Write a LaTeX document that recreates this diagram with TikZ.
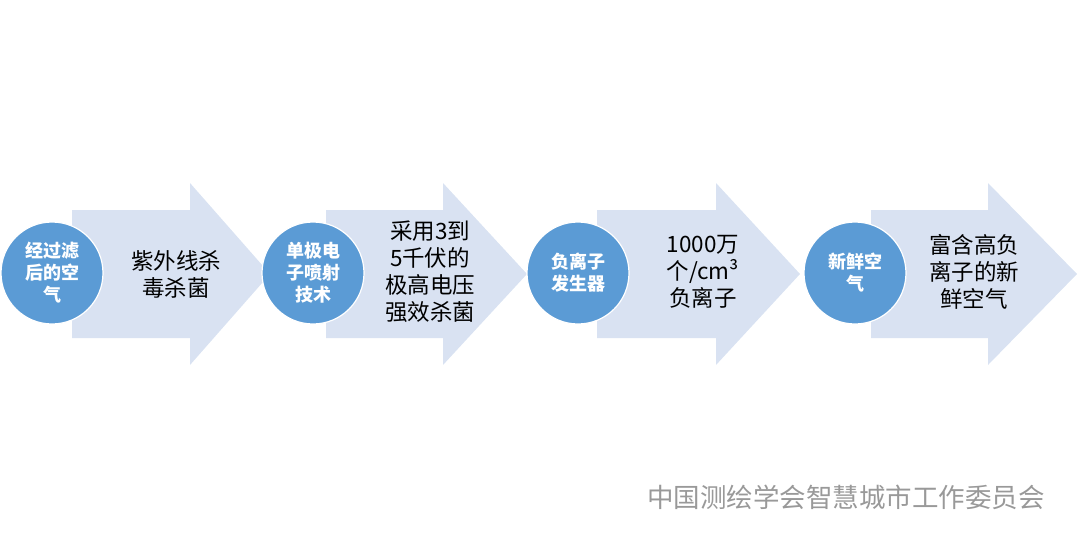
\documentclass[tikz,border=0pt]{standalone}
\usepackage{fontspec}
\newfontfamily\cjk{Noto Sans CJK SC}
\definecolor{arrowfill}{HTML}{D9E2F2}
\definecolor{circfill}{HTML}{5B9BD5}
\tikzset{
  stepcirc/.style={circle,fill=circfill,draw=white,line width=1.2pt,minimum size=102pt,inner sep=0pt,
    text=white,font=\cjk\bfseries\fontsize{18}{22}\selectfont,align=center},
  steptext/.style={font=\cjk\fontsize{22.5}{27}\selectfont,align=center}
}
\begin{document}
\begin{tikzpicture}[x=1pt,y=-1pt]
\useasboundingbox (0,0) rectangle (1080,547);
% arrows
\foreach \s/\h/\e in {72/190/270, 326/443/527, 597/716/800, 871/988/1077}
  \fill[arrowfill] (\s,210) -- (\h,210) -- (\h,183) -- (\e,274) -- (\h,365) -- (\h,338) -- (\s,338) -- cycle;
% circles
\node[stepcirc] (c1) at (52,273) {经过滤\\后的空\\气};
\node[stepcirc] (c2) at (313,273) {单极电\\子喷射\\技术};
\node[stepcirc] (c3) at (578,273) {负离子\\发生器};
\node[stepcirc] (c4) at (855,273) {新鲜空\\气};
% arrow texts
\node[steptext] (t1) at (176,274) {紫外线杀\\毒杀菌};
\node[steptext] (t2) at (430,272) {采用3到\\5千伏的\\极高电压\\强效杀菌};
\node[steptext] (t3) at (703,272) {1000万\\个/cm³\\负离子};
\node[steptext] (t4) at (974,272) {富含高负\\离子的新\\鲜空气};
% watermark
\node[font=\cjk\fontsize{26.5}{29}\selectfont,text=gray!80] (wm) at (846,497) {中国测绘学会智慧城市工作委员会};
\end{tikzpicture}
\end{document}
